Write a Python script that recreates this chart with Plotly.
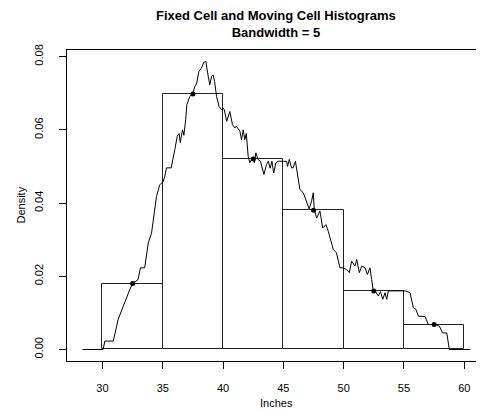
import plotly.graph_objects as go

# Fixed-cell histogram (bin edges 30..60, width 5)
bin_left = [30, 35, 40, 45, 50, 55]
bin_width = 5
bin_mid = [32.5, 37.5, 42.5, 47.5, 52.5, 57.5]
bin_density = [0.018, 0.0698, 0.052, 0.038, 0.016, 0.0068]

# Moving-cell histogram (traced)
mov_x = [28.34, 30.05, 30.2, 30.9, 31.3, 31.7, 32.27, 32.5, 32.95, 33.15, 33.5, 33.8, 34.07,
         34.48, 34.75, 35.03, 35.17, 35.3, 35.7, 36.0, 36.2, 36.36, 36.45, 36.64, 36.75,
         36.9, 37.0, 37.25, 37.5, 37.66, 37.8, 38.0, 38.2, 38.4, 38.57, 38.77, 38.9, 39.05,
         39.18, 39.3, 39.46, 39.67, 39.87, 40.0, 40.1, 40.3, 40.56, 40.78, 40.98, 41.1, 41.4,
         41.53, 41.67, 41.8, 41.93, 42.08, 42.22, 42.36, 42.5, 42.6, 42.72, 42.9, 43.1, 43.39,
         43.6, 43.75, 43.9, 44.05, 44.2, 44.38, 44.57, 45.0, 45.27, 45.35, 45.49, 45.68, 45.8,
         46.0, 46.18, 46.37, 46.65, 46.93, 47.14, 47.34, 47.48, 47.56, 47.76, 48.03, 48.26,
         48.53, 48.72, 49.14, 49.4, 49.69, 49.96, 50.25, 50.47, 50.66, 50.94, 51.08, 51.3,
         51.5, 51.77, 51.97, 52.18, 52.32, 52.46, 52.6, 52.87, 53.05, 53.24, 53.43, 53.57,
         53.7, 55.1, 55.5, 55.78, 56.0, 56.2, 56.75, 57.02, 57.58, 57.93, 58.2, 58.55, 58.76,
         60.47]
mov_y = [0.0, 0.0, 0.0023, 0.0023, 0.0082, 0.0118, 0.0164, 0.018, 0.0191, 0.0223, 0.0223,
         0.0291, 0.0318, 0.0418, 0.045, 0.0458, 0.0473, 0.0496, 0.0496, 0.0546, 0.0582, 0.059,
         0.0565, 0.06, 0.0585, 0.0628, 0.0669, 0.0691, 0.07, 0.0719, 0.0725, 0.076, 0.0768,
         0.0784, 0.0787, 0.0746, 0.0723, 0.0746, 0.075, 0.0732, 0.0691, 0.0664, 0.0655, 0.066,
         0.0655, 0.0623, 0.065, 0.0614, 0.0605, 0.061, 0.0596, 0.0573, 0.06, 0.0573, 0.059,
         0.0528, 0.051, 0.0519, 0.0518, 0.051, 0.0537, 0.0519, 0.0514, 0.0478, 0.0505, 0.0514,
         0.0495, 0.0514, 0.0482, 0.051, 0.0514, 0.0514, 0.0514, 0.05, 0.0519, 0.0496, 0.0496,
         0.0514, 0.0482, 0.0437, 0.0428, 0.04, 0.0384, 0.0405, 0.0428, 0.0382, 0.0359, 0.0378,
         0.0332, 0.0341, 0.0323, 0.0273, 0.0264, 0.0223, 0.0223, 0.0218, 0.021, 0.0241, 0.0228,
         0.0246, 0.021, 0.0228, 0.0223, 0.0205, 0.0223, 0.0191, 0.0159, 0.016, 0.0146, 0.0158,
         0.0137, 0.0155, 0.0137, 0.016, 0.016, 0.0155, 0.0114, 0.0109, 0.0091, 0.009, 0.0068,
         0.0068, 0.0064, 0.0045, 0.0045, 0.0, 0.0]

x_ticks = [30, 35, 40, 45, 50, 55, 60]
y_ticks = [0.0, 0.02, 0.04, 0.06, 0.08]

FONT = "Liberation Sans, Arial, sans-serif"
OFF = 8  # page body offset
W, H = 484, 412
L, T, R, B = 67 - OFF, 50 - OFF, OFF, H - (360.7 - OFF)
PH = H - T - B
PW = W - L - R

fig = go.Figure()
fig.add_trace(go.Bar(
    x=[l + bin_width / 2 for l in bin_left], y=bin_density, width=bin_width,
    marker=dict(color="rgba(0,0,0,0)", line=dict(color="#222", width=1)),
    hoverinfo="skip", showlegend=False))
fig.add_trace(go.Scatter(
    x=mov_x, y=mov_y, mode="lines", line=dict(color="black", width=1),
    showlegend=False))
fig.add_trace(go.Scatter(
    x=bin_mid, y=bin_density, mode="markers",
    marker=dict(color="black", size=5), showlegend=False))

def py(px):
    return (H - B - (px - OFF)) / PH

def pxx(px):
    return ((px - OFF) - L) / PW

fig.update_layout(
    width=W, height=H,
    margin=dict(l=L, r=R, t=T, b=B),
    paper_bgcolor="white", plot_bgcolor="white",
    font=dict(family=FONT, size=11, color="black"),
    bargap=0,
    xaxis=dict(range=[27.06, 61.635], tickvals=x_ticks, ticktext=[str(v) for v in x_ticks],
               ticks="outside", ticklen=7, tickcolor="black", showgrid=False, zeroline=False,
               showline=True, linecolor="black", linewidth=1, mirror=True,
               automargin=False, ticklabelstandoff=10, tickfont=dict(size=11)),
    yaxis=dict(range=[-0.00315, 0.0818], tickvals=y_ticks,
               ticktext=["%.2f" % v for v in y_ticks], tickangle=-90,
               ticks="outside", ticklen=7, tickcolor="black", showgrid=False, zeroline=False,
               showline=True, linecolor="black", linewidth=1,
               automargin=False, ticklabelstandoff=12, tickfont=dict(size=11)),
    annotations=[
        dict(text="<b>Fixed Cell and Moving Cell Histograms</b><br><b>Bandwidth = 5</b>",
             xref="paper", yref="paper",
             x=pxx(276.4), y=py(24), xanchor="center", yanchor="middle",
             showarrow=False, font=dict(size=13)),
        dict(text="Inches", xref="paper", yref="paper",
             x=pxx(276.4), y=py(403), xanchor="center", yanchor="middle",
             showarrow=False, font=dict(size=11)),
        dict(text="Density", xref="paper", yref="paper", textangle=-90,
             x=pxx(21), y=py(205.4), xanchor="center", yanchor="middle",
             showarrow=False, font=dict(size=11)),
    ],
)

fig.write_html("out.html")
